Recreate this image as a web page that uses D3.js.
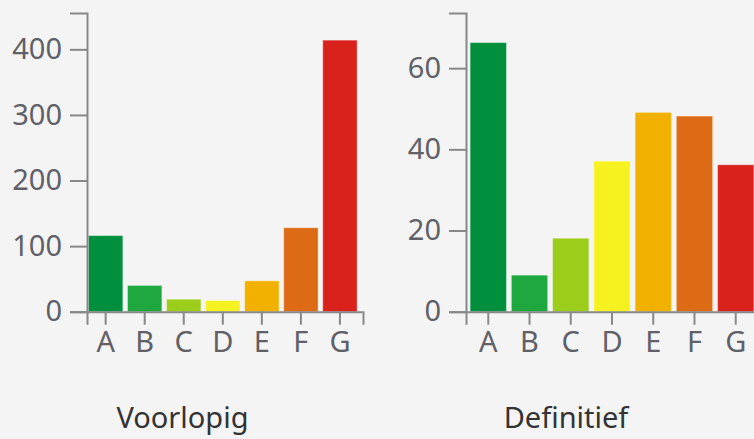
<!DOCTYPE html>
<html>
<head>
<meta charset="utf-8">
<script src="https://cdn.jsdelivr.net/npm/d3@7"></script>
<style>
  html, body { margin: 0; padding: 0; background: #f4f4f4; }
  svg { display: block; }
  text { font-family: "Noto Sans", sans-serif; }
</style>
</head>
<body>
<script>
// ---- data ----
const categories = ["A", "B", "C", "D", "E", "F", "G"];
const colors = ["#008f3c", "#1ea83f", "#9ccd1a", "#f6f21f", "#f2b000", "#dd6a14", "#d9221c"];
const voorlopigValues = [116, 40, 19, 17, 47, 128, 414];
const definitiefValues = [66.3, 9, 18.1, 37.1, 49.1, 48.2, 36.2];
const voorlopigTicks = [0, 100, 200, 300, 400];
const definitiefTicks = [0, 20, 40, 60];
const titles = ["Voorlopig", "Definitief"];

const W = 754, H = 439;
const svg = d3.select("body").append("svg").attr("width", W).attr("height", H);
svg.append("rect").attr("width", W).attr("height", H).attr("fill", "#f4f4f4");

const panels = [
  { values: voorlopigValues, ticks: voorlopigTicks, title: titles[0],
    xRange: [87, 363], padOuter: 0.094, align: 0.2, headroom: 1.1, titleX: 182.5 },
  { values: definitiefValues, ticks: definitiefTicks, title: titles[1],
    xRange: [466, 758], padOuter: 0.1, align: 0.5, headroom: 1.11, titleX: 566 }
];

const y0 = 311.7, yTop = 13;
const axisColor = "#888888";
const fontSize = 29;

panels.forEach(p => {
  const g = svg.append("g");
  const x = d3.scaleBand().domain(categories).range(p.xRange)
    .paddingInner(0.12).paddingOuter(p.padOuter).align(p.align);
  const y = d3.scaleLinear().domain([0, d3.max(p.values) * p.headroom]).range([y0, yTop]);

  g.selectAll("rect.bar").data(categories).join("rect")
    .attr("class", "bar")
    .attr("x", d => x(d))
    .attr("width", x.bandwidth())
    .attr("y", (d, i) => y(p.values[i]))
    .attr("height", (d, i) => y(0) - y(p.values[i]))
    .attr("fill", (d, i) => colors[i])
    .attr("stroke", "rgba(255,255,255,0.35)")
    .attr("stroke-width", 1);

  const yAxis = g.append("g").attr("transform", `translate(${p.xRange[0]},0)`)
    .call(d3.axisLeft(y).tickValues(p.ticks).tickSize(17).tickSizeOuter(17).tickPadding(8));
  const xAxis = g.append("g").attr("transform", `translate(0,${y0})`)
    .call(d3.axisBottom(x).tickSize(13).tickSizeOuter(13).tickPadding(7));

  [yAxis, xAxis].forEach(a => {
    a.selectAll("path, line").attr("stroke", axisColor).attr("stroke-width", 2);
    a.selectAll("text").attr("fill", "#5f6068").style("font-size", fontSize + "px")
      .style("font-family", '"Noto Sans", sans-serif');
  });

  svg.append("text")
    .attr("x", p.titleX).attr("y", 428)
    .attr("text-anchor", "middle")
    .attr("fill", "#333333")
    .style("font-size", fontSize + "px")
    .text(p.title);
});
</script>
</body>
</html>
